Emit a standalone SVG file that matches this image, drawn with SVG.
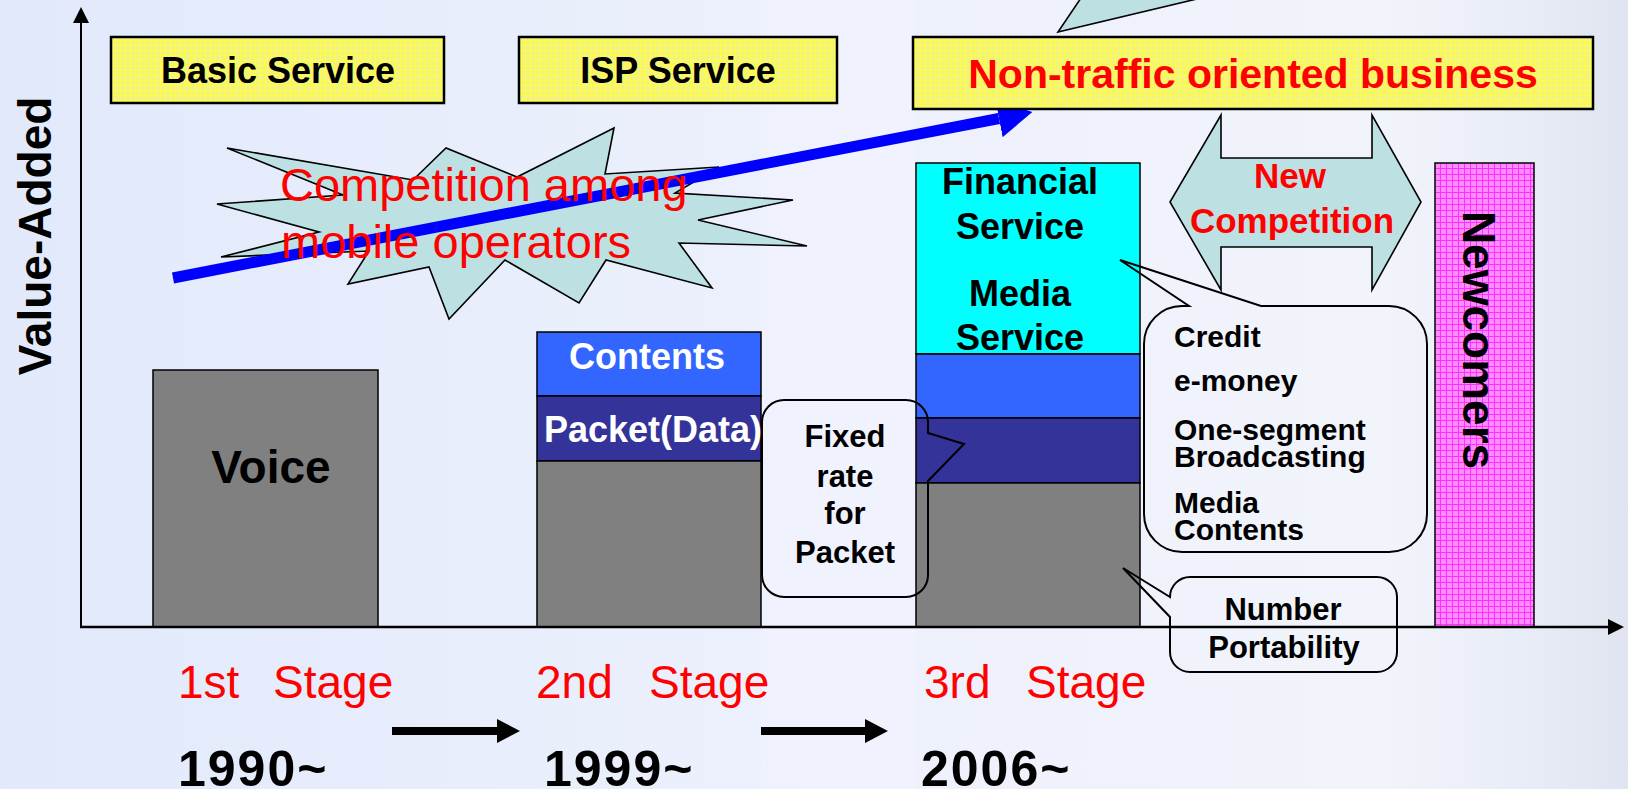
<svg xmlns="http://www.w3.org/2000/svg" width="1628" height="789" viewBox="0 0 1628 789">
<defs>
<linearGradient id="bg" x1="0" y1="0" x2="1" y2="0">
<stop offset="0" stop-color="#e1e9fb"/>
<stop offset="0.45" stop-color="#ecf0fc"/>
<stop offset="0.85" stop-color="#f2f4fb"/>
<stop offset="0.94" stop-color="#e8ecf6"/>
<stop offset="1" stop-color="#dfe4f0"/>
</linearGradient>
<pattern id="yellowGrid" width="5" height="5" patternUnits="userSpaceOnUse">
<rect width="5" height="5" fill="#f2f284"/>
<path d="M0 0.5H5M0.5 0V5" stroke="#ffff3c" stroke-width="1"/>
</pattern>
<pattern id="magentaGrid" width="6" height="6" patternUnits="userSpaceOnUse">
<rect width="6" height="6" fill="#ff8cff"/>
<path d="M0 0.5H6M0.5 0V6" stroke="#ff30ff" stroke-width="1"/>
</pattern>
<marker id="axisHead" viewBox="0 0 16 16" refX="0" refY="8" markerWidth="16" markerHeight="16" markerUnits="userSpaceOnUse" orient="auto">
<path d="M0,0 L16,8 L0,16 Z" fill="#000"/>
</marker>
<marker id="stageHead" viewBox="0 0 23 24" refX="0" refY="12" markerWidth="23" markerHeight="24" markerUnits="userSpaceOnUse" orient="auto">
<path d="M0,0 L23,12 L0,24 Z" fill="#000"/>
</marker>
<marker id="blueHead" viewBox="0 0 34 38" refX="0" refY="19" markerWidth="34" markerHeight="38" markerUnits="userSpaceOnUse" orient="auto">
<path d="M0,0 L34,19 L0,38 Z" fill="#0000ff"/>
</marker>
<style>
.box{fill:url(#yellowGrid);stroke:#000;stroke-width:2.5}
.bar{stroke:#000;stroke-width:1.5}
.callout{fill:none;stroke:#000;stroke-width:2}
.burst{fill:#bde0e3;stroke:#000;stroke-width:1.6}
.b{font-family:"Liberation Sans",Arial,sans-serif;font-weight:bold}
.r{font-family:"Liberation Sans",Arial,sans-serif}
.mid{text-anchor:middle}
</style>
</defs>

<g id="background">
<rect width="1628" height="789" fill="url(#bg)"/>
<rect x="761" y="0" width="155" height="789" fill="#f1f4fd" opacity="0.6"/>
</g>

<g id="top-callout-tail">
<path d="M1081,-2 L1058,32 L1201,-2 Z" class="burst"/>
</g>

<g id="starburst">
<polygon class="burst" points="227,148 413,180 446,148 517,177 614,128 605,174 719,167 675,193 793,200 698,220 807,246 679,243 712,288 606,260 579,303 505,260 449,319 429,267 348,284 369,251 221,257 319,232 217,204 343,195"/>
</g>

<g id="stage1-voice">
<rect class="bar" x="153" y="370" width="225" height="257" fill="#808080"/>
<text class="b mid" x="271" y="483" font-size="46" fill="#000">Voice</text>
</g>

<g id="stage2-column">
<rect class="bar" x="537" y="332" width="224" height="64" fill="#3366ff"/>
<rect class="bar" x="537" y="396" width="224" height="65" fill="#333399"/>
<rect class="bar" x="537" y="461" width="224" height="166" fill="#808080"/>
<text class="b mid" x="647" y="369" font-size="36" fill="#fff">Contents</text>
<text class="b" x="544" y="442" font-size="36" fill="#fff">Packet(Data)</text>
</g>

<g id="stage3-column">
<rect class="bar" x="916" y="163" width="224" height="191" fill="#00ffff"/>
<rect class="bar" x="916" y="354" width="224" height="64" fill="#3366ff"/>
<rect class="bar" x="916" y="418" width="224" height="65" fill="#333399"/>
<rect class="bar" x="916" y="483" width="224" height="144" fill="#808080"/>
<text class="b mid" x="1020" y="194" font-size="36" fill="#000">Financial</text>
<text class="b mid" x="1020" y="239" font-size="36" fill="#000">Service</text>
<text class="b mid" x="1020" y="306" font-size="36" fill="#000">Media</text>
<text class="b mid" x="1020" y="350" font-size="36" fill="#000">Service</text>
</g>

<g id="newcomers">
<rect class="bar" x="1435" y="163" width="99" height="464" fill="url(#magentaGrid)"/>
<text class="b mid" transform="translate(1463,340) rotate(90)" font-size="46" fill="#000">Newcomers</text>
</g>

<g id="new-competition">
<polygon class="burst" points="1221,115 1221,158 1372,158 1372,115 1421,202 1372,290 1372,247 1221,247 1221,290 1170,202"/>
<text class="b mid" x="1290" y="188" font-size="35" fill="#ff0000">New</text>
<text class="b mid" x="1292" y="233" font-size="35" fill="#ff0000">Competition</text>
</g>

<g id="connectors">
<line x1="81" y1="627" x2="81" y2="23" stroke="#000" stroke-width="2" marker-end="url(#axisHead)"/>
<line x1="80" y1="627" x2="1608" y2="627" stroke="#000" stroke-width="2.5" marker-end="url(#axisHead)"/>
<line x1="173" y1="278" x2="999" y2="118.5" stroke="#0000ff" stroke-width="11" marker-end="url(#blueHead)"/>
<line x1="392" y1="731" x2="497" y2="731" stroke="#000" stroke-width="8" marker-end="url(#stageHead)"/>
<line x1="761" y1="731" x2="865" y2="731" stroke="#000" stroke-width="8" marker-end="url(#stageHead)"/>
</g>

<g id="starburst-label">
<text class="r" x="280" y="201" font-size="47" fill="#ff0000">Competition among</text>
<text class="r" x="281" y="258" font-size="47" fill="#ff0000">mobile operators</text>
</g>

<g id="basic-service">
<rect class="box" x="111" y="37" width="333" height="66"/>
<text class="b mid" x="278" y="83" font-size="36" fill="#000">Basic Service</text>
</g>

<g id="isp-service">
<rect class="box" x="519" y="37" width="318" height="66"/>
<text class="b mid" x="678" y="83" font-size="36" fill="#000">ISP Service</text>
</g>

<g id="non-traffic">
<rect class="box" x="913" y="37" width="680" height="72"/>
<text class="b mid" x="1253" y="88" font-size="41" fill="#ff0000">Non-traffic oriented business</text>
</g>

<g id="callout-fixed-rate">
<path class="callout" d="M784,400 H906 A22,22 0 0 1 928,422 V433 L964,444 L928,481 V575 A22,22 0 0 1 906,597 H784 A22,22 0 0 1 762,575 V422 A22,22 0 0 1 784,400 Z"/>
<text class="b mid" x="845" y="447" font-size="31" fill="#000">Fixed</text>
<text class="b mid" x="845" y="487" font-size="31" fill="#000">rate</text>
<text class="b mid" x="845" y="524" font-size="31" fill="#000">for</text>
<text class="b mid" x="845" y="563" font-size="31" fill="#000">Packet</text>
</g>

<g id="callout-services">
<path class="callout" d="M1182,306 H1189 L1120,260 L1261,306 H1389 A38,38 0 0 1 1427,344 V514 A38,38 0 0 1 1389,552 H1182 A38,38 0 0 1 1144,514 V344 A38,38 0 0 1 1182,306 Z"/>
<text class="b" x="1174" y="347" font-size="30" fill="#000">Credit</text>
<text class="b" x="1174" y="391" font-size="30" fill="#000">e-money</text>
<text class="b" x="1174" y="440" font-size="30" fill="#000">One-segment</text>
<text class="b" x="1174" y="467" font-size="30" fill="#000">Broadcasting</text>
<text class="b" x="1174" y="513" font-size="30" fill="#000">Media</text>
<text class="b" x="1174" y="540" font-size="30" fill="#000">Contents</text>
</g>

<g id="callout-number-portability">
<path class="callout" d="M1190,577 H1377 A20,20 0 0 1 1397,597 V652 A20,20 0 0 1 1377,672 H1190 A20,20 0 0 1 1170,652 V617 L1123,568 L1170,597 A20,20 0 0 1 1190,577 Z"/>
<text class="b mid" x="1283" y="620" font-size="31" fill="#000">Number</text>
<text class="b mid" x="1284" y="658" font-size="31" fill="#000">Portability</text>
</g>

<g id="stage-labels">
<text class="r" y="698" font-size="46" fill="#ff0000"><tspan x="178">1st</tspan> <tspan x="273">Stage</tspan></text>
<text class="r" y="698" font-size="46" fill="#ff0000"><tspan x="536">2nd</tspan> <tspan x="649">Stage</tspan></text>
<text class="r" y="698" font-size="46" fill="#ff0000"><tspan x="924">3rd</tspan> <tspan x="1026">Stage</tspan></text>
<text class="b" x="178" y="786" font-size="50" letter-spacing="2" fill="#000">1990~</text>
<text class="b" x="544" y="786" font-size="50" letter-spacing="2" fill="#000">1999~</text>
<text class="b" x="921" y="786" font-size="50" letter-spacing="2" fill="#000">2006~</text>
</g>

<g id="axis-label">
<text class="b mid" transform="translate(51,236) rotate(-90)" font-size="46" fill="#000">Value-Added</text>
</g>
</svg>
